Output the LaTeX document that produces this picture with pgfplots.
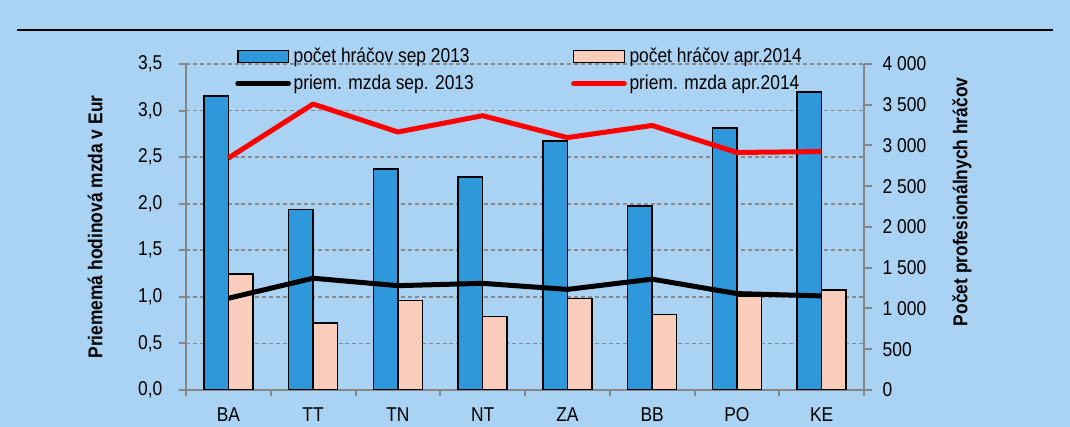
\documentclass[border=0pt]{standalone}
\usepackage{fontspec}
\setmainfont[FakeStretch=0.87]{Liberation Sans}
\usepackage{pgfplots}
\pgfplotsset{compat=1.18}
\definecolor{bg}{RGB}{170,210,242}
\definecolor{barblue}{RGB}{46,152,218}
\definecolor{barpink}{RGB}{250,204,188}
\definecolor{axgray}{RGB}{134,134,134}
\definecolor{gridgray}{RGB}{138,138,138}
\newcommand{\fs}{\fontsize{15pt}{17.5pt}\selectfont}
\pgfplotsset{
  base/.style={scale only axis, width=508.5pt, height=244.5pt,
    at={(139.5pt,27.75pt)}, anchor=south west, xmin=-0.5, xmax=7.5,
    font=\fs, tick label style={font=\fs}},
}
\begin{document}
\begin{tikzpicture}
\fill[bg] (0,0) rectangle (802.5pt,320.25pt);
\draw[black, line width=1.5pt] (12.75pt,297.75pt) -- (789.75pt,297.75pt);
% axis 1: left scale, grid, x labels
\begin{axis}[base, ymin=0, ymax=3.5,
  axis x line*=bottom, axis y line*=left,
  axis line style={draw=axgray, line width=1.5pt},
  tick align=outside,
  major tick length=5.25pt, minor tick length=4.5pt,
  ytick={0,0.5,...,3.5},
  yticklabels={{0,0},{0,5},{1,0},{1,5},{2,0},{2,5},{3,0},{3,5}},
  yticklabel style={xshift=-9pt},
  xticklabel style={yshift=-4.5pt},
  ytick style={draw=axgray, line width=1.5pt},
  xtick={0,...,7}, xticklabels={BA,TT,TN,NT,ZA,BB,PO,KE},
  major x tick style={draw=none},
  minor xtick={-0.5,0.5,...,7.5},
  minor x tick style={draw=axgray, line width=1.5pt},
  ymajorgrids,
  y grid style={draw=gridgray, line width=1.3pt, dash pattern=on 3pt off 2.2pt},
  every axis y label/.style={at={(axis description cs:-0.134,0.50)}, anchor=center, rotate=90, font=\fs\bfseries},
  ylabel={Priememá hodinová mzda v Eur},
]
\end{axis}
% axis 2: bars, right scale
\begin{axis}[base, ymin=0, ymax=4000,
  axis x line=none, axis y line*=right,
  axis line style={draw=axgray, line width=1.5pt},
  tick align=outside, major tick length=6pt,
  ytick={0,500,...,4000},
  yticklabels={0,500,{1 000},{1 500},{2 000},{2 500},{3 000},{3 500},{4 000}},
  yticklabel style={xshift=4.5pt},
  ytick style={draw=axgray, line width=1.5pt},
  ybar=0pt, bar width=18.4pt,
  every axis y label/.style={at={(axis description cs:1.1445,0.577)}, anchor=center, rotate=90, font=\fs\bfseries},
  ylabel={Počet profesionálnych hráčov},
]
\addplot[fill=barblue, draw=black, line width=1.1pt] coordinates {(0,3610) (1,2215) (2,2710) (3,2612) (4,3057) (5,2258) (6,3213) (7,3658)};
\addplot[fill=barpink, draw=black, line width=1.1pt] coordinates {(0,1423) (1,822) (2,1096) (3,900) (4,1121) (5,924) (6,1145) (7,1227)};
\end{axis}
% axis 3: wage lines and legend
\begin{axis}[base, ymin=0, ymax=3.5, hide axis,
  legend columns=2,
  legend style={at={(0.0723,1.058)}, anchor=north west, draw=none, fill=none,
    inner sep=0pt, font=\fs, row sep=4pt,
    nodes={inner sep=2pt},
    /tikz/every even column/.append style={column sep=71pt}},
  legend cell align=left,
]
\addlegendimage{legend image code/.code={\draw[fill=barblue,draw=black,line width=1.1pt] (0pt,-4.5pt) rectangle (38pt,4.5pt);}}
\addlegendentry{počet hráčov sep 2013}
\addlegendimage{legend image code/.code={\draw[fill=barpink,draw=black,line width=1.1pt] (0pt,-4.5pt) rectangle (38pt,4.5pt);}}
\addlegendentry{počet hráčov apr.2014}
\addplot[black, line width=3.75pt, line join=round, mark=none,
  legend image code/.code={\draw[black,line width=3.75pt,line cap=round] (0pt,0pt) -- (38pt,0pt);}]
  coordinates {(0,0.985) (1,1.20) (2,1.12) (3,1.145) (4,1.08) (5,1.19) (6,1.035) (7,1.01)};
\addlegendentry{priem. mzda sep. 2013}
\addplot[red, line width=3.75pt, line join=round, mark=none,
  legend image code/.code={\draw[red,line width=3.75pt,line cap=round] (0pt,0pt) -- (38pt,0pt);}]
  coordinates {(0,2.49) (1,3.07) (2,2.77) (3,2.945) (4,2.71) (5,2.84) (6,2.55) (7,2.56)};
\addlegendentry{priem. mzda apr.2014}
\end{axis}
\pgfresetboundingbox
\path (0,0) rectangle (802.5pt,320.25pt);
\end{tikzpicture}
\end{document}
